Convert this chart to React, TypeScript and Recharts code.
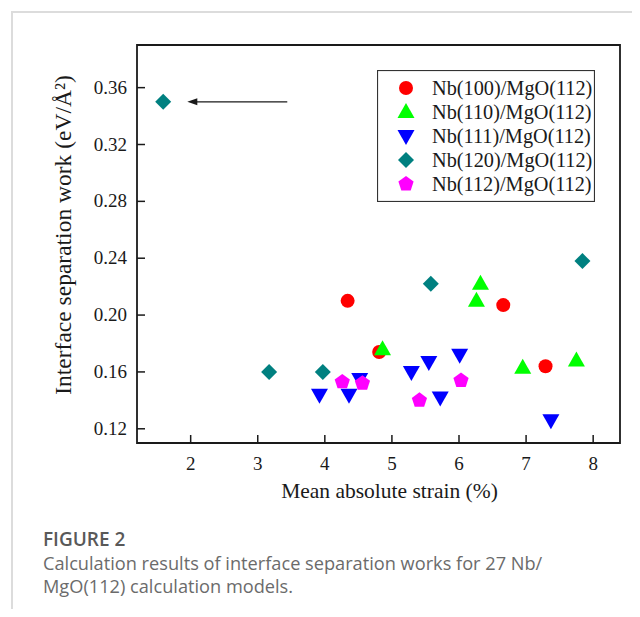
import React from 'react';
import {
  ScatterChart,
  Scatter,
  XAxis,
  YAxis,
  ReferenceArea,
  ReferenceLine,
  Legend,
} from 'recharts';

// values (x = mean absolute strain %, y = separation work eV/A^2)
const nb100 = [
  { x: 4.34, y: 0.21 },
  { x: 4.81, y: 0.174 },
  { x: 6.66, y: 0.207 },
  { x: 7.29, y: 0.164 },
];
const nb110 = [
  { x: 4.86, y: 0.176 },
  { x: 6.32, y: 0.222 },
  { x: 6.26, y: 0.21 },
  { x: 6.95, y: 0.163 },
  { x: 7.75, y: 0.168 },
];
const nb111 = [
  { x: 3.92, y: 0.144 },
  { x: 4.36, y: 0.144 },
  { x: 4.52, y: 0.155 },
  { x: 5.29, y: 0.16 },
  { x: 5.55, y: 0.167 },
  { x: 6.01, y: 0.172 },
  { x: 5.72, y: 0.142 },
  { x: 7.37, y: 0.126 },
];
const nb120 = [
  { x: 1.59, y: 0.35 },
  { x: 3.17, y: 0.16 },
  { x: 3.97, y: 0.16 },
  { x: 5.58, y: 0.222 },
  { x: 7.84, y: 0.238 },
];
const nb112 = [
  { x: 4.26, y: 0.153 },
  { x: 4.56, y: 0.152 },
  { x: 5.41, y: 0.14 },
  { x: 6.03, y: 0.154 },
];

const xTicks = [2, 3, 4, 5, 6, 7, 8];
const yTicks = [0.12, 0.16, 0.2, 0.24, 0.28, 0.32, 0.36];
const xDomain = [1.2, 8.4];
const yDomain = [0.11, 0.39];
const arrowPoints = [
  { x: 3.44, y: 0.35 },
  { x: 1.95, y: 0.35 },
];

const series = [
  { name: 'Nb(100)/MgO(112)', data: nb100, kind: 'circle', color: '#ff0000' },
  { name: 'Nb(110)/MgO(112)', data: nb110, kind: 'up', color: '#00ff00' },
  { name: 'Nb(111)/MgO(112)', data: nb111, kind: 'down', color: '#0000ff' },
  { name: 'Nb(120)/MgO(112)', data: nb120, kind: 'diamond', color: '#008080' },
  { name: 'Nb(112)/MgO(112)', data: nb112, kind: 'pentagon', color: '#ff00ff' },
];

const SERIF = '"Liberation Serif", "Times New Roman", serif';
const INK = '#1a1a1a';

const Marker = ({ kind, cx, cy, color }: any) => {
  if (kind === 'circle') return <circle cx={cx} cy={cy} r={7} fill={color} />;
  let pts: number[][] = [];
  if (kind === 'up') pts = [[0, -9], [8.5, 6], [-8.5, 6]];
  if (kind === 'down') pts = [[-8.5, -6], [8.5, -6], [0, 9]];
  if (kind === 'diamond') pts = [[0, -8], [8, 0], [0, 8], [-8, 0]];
  if (kind === 'pentagon') {
    pts = [0, 1, 2, 3, 4].map(i => {
      const a = -Math.PI / 2 + (i * 2 * Math.PI) / 5;
      return [8 * Math.cos(a), 8 * Math.sin(a)];
    });
  }
  return <polygon points={pts.map(p => `${cx + p[0]},${cy + p[1]}`).join(' ')} fill={color} />;
};

const XTick = ({ x, y, payload }: any) => (
  <g>
    <line x1={x} x2={x} y1={y} y2={y - 8} stroke={INK} strokeWidth={1.5} />
    <text x={x} y={y + 27} textAnchor="middle" fontFamily={SERIF} fontSize={19} fill={INK}>
      {payload.value}
    </text>
  </g>
);

const YTick = ({ x, y, payload }: any) => (
  <g>
    <line x1={x} x2={x + 8} y1={y} y2={y} stroke={INK} strokeWidth={1.5} />
    <text x={x - 10} y={y + 6} textAnchor="end" fontFamily={SERIF} fontSize={19} fill={INK}>
      {Number(payload.value).toFixed(2)}
    </text>
  </g>
);

const Arrow = (props: any) => {
  const { x1, y1, x2, y2 } = props;
  return (
    <g>
      <line x1={x1} y1={y1} x2={x2 + 6} y2={y2} stroke={INK} strokeWidth={1.2} />
      <polygon points={`${x2},${y2} ${x2 + 10},${y2 - 3.5} ${x2 + 10},${y2 + 3.5}`} fill={INK} />
    </g>
  );
};

const LegendBox = () => (
  <svg width={218} height={132} style={{ display: 'block' }}>
    <rect x={0.5} y={0.5} width={217} height={131} fill="#fff" stroke="#333" strokeWidth={1.2} />
    {series.map((s, i) => {
      const cy = 18 + i * 24;
      return (
        <g key={s.name}>
          <Marker kind={s.kind} cx={29} cy={cy} color={s.color} />
          <text x={55} y={cy + 7} fontFamily={SERIF} fontSize={20.3} fill={INK}>
            {s.name}
          </text>
        </g>
      );
    })}
  </svg>
);

const XTitle = ({ viewBox }: any) => (
  <text
    x={viewBox.x + viewBox.width / 2 + 11}
    y={viewBox.y + 55}
    textAnchor="middle"
    fontFamily={SERIF}
    fontSize={21.5}
    fill={INK}
  >
    Mean absolute strain (%)
  </text>
);

const YTitle = () => (
  <text
    transform="translate(71, 235) rotate(-90)"
    textAnchor="middle"
    fontFamily={SERIF}
    fontSize={23.5}
    fill={INK}
  >
    Interface separation work (eV/Å²)
  </text>
);

const App = () => (
  <div
    style={{
      position: 'relative',
      width: 640,
      height: 617,
      margin: -8,
      background: '#fff',
      overflow: 'hidden',
    }}
  >
    <div
      style={{
        position: 'absolute',
        left: 11,
        top: 11,
        width: 640,
        height: 620,
        borderTop: '2px solid #dcdcdc',
        borderLeft: '2px solid #dcdcdc',
      }}
    />
    <div style={{ position: 'absolute', left: 0, top: 0 }}>
      <ScatterChart
        width={640}
        height={617}
        margin={{ top: 45, right: 20, bottom: 144, left: 77 }}
      >
        <XAxis
          type="number"
          dataKey="x"
          domain={xDomain}
          ticks={xTicks}
          allowDataOverflow
          height={30}
          axisLine={false}
          tickLine={false}
          tickSize={0}
          tickMargin={0}
          tick={<XTick />}
          label={<XTitle />}
        />
        <YAxis
          type="number"
          dataKey="y"
          domain={yDomain}
          ticks={yTicks}
          allowDataOverflow
          width={60}
          axisLine={false}
          tickLine={false}
          tickSize={0}
          tickMargin={0}
          tick={<YTick />}
        />
        <ReferenceArea
          x1={xDomain[0]}
          x2={xDomain[1]}
          y1={yDomain[0]}
          y2={yDomain[1]}
          fill="none"
          stroke={INK}
          strokeWidth={1.8}
          ifOverflow="visible"
        />
        <ReferenceLine segment={arrowPoints} shape={<Arrow />} ifOverflow="visible" />
        {series.map(s => (
          <Scatter
            key={s.name}
            name={s.name}
            data={s.data}
            isAnimationActive={false}
            shape={(p: any) => <Marker kind={s.kind} cx={p.cx} cy={p.cy} color={s.color} />}
          />
        ))}
        <Legend
          layout="horizontal"
          verticalAlign="middle"
          align="center"
          content={<LegendBox />}
          wrapperStyle={{ position: 'absolute', left: 377, top: 70, width: 218, height: 132 }}
        />
        <YTitle />
      </ScatterChart>
    </div>
    <div
      style={{
        position: 'absolute',
        left: 43,
        top: 530,
        fontFamily: '"Open Sans", sans-serif',
        fontWeight: 600,
        fontSize: 19,
        lineHeight: '19px',
        color: '#595959',
      }}
    >
      FIGURE 2
    </div>
    <div
      style={{
        position: 'absolute',
        left: 43,
        top: 552,
        width: 580,
        fontFamily: '"Open Sans", sans-serif',
        fontSize: 18.2,
        lineHeight: '23px',
        color: '#6b6b6b',
      }}
    >
      Calculation results of interface separation works for 27 Nb/
      <br />
      MgO(112) calculation models.
    </div>
  </div>
);

export default App;
